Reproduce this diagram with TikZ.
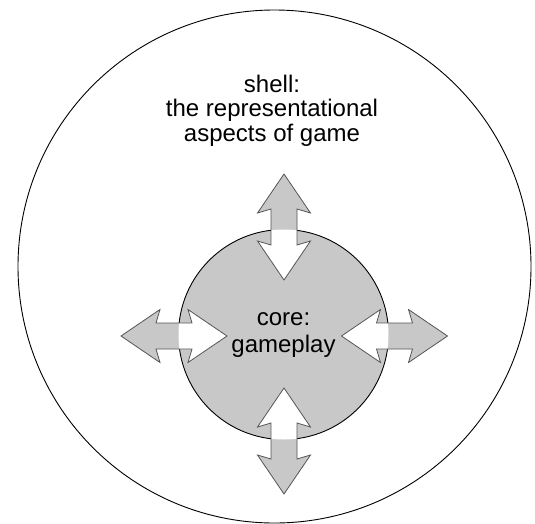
\documentclass[tikz,border=0pt]{standalone}
\usepackage{fontspec}
\setmainfont{Liberation Sans}
\definecolor{coregray}{RGB}{200,200,200}
\definecolor{edgegray}{RGB}{85,85,85}

% outline of a two-way arrow, centred on the origin, pointing along x
\newcommand{\twowaypath}{%
  (53,0) -- (14,26.5) -- (18,13) -- (-18,13) -- (-14,26.5) -- (-53,0)
  -- (-14,-26.5) -- (-18,-13) -- (18,-13) -- (14,-26.5) -- cycle}

% two-way arrow across the core boundary: grey outside, white inside
\newcommand{\twowayarrow}[2]{%
  \begin{scope}[shift={(#1)}, rotate=#2]
    \fill[coregray] \twowaypath;
  \end{scope}
  \begin{scope}
    \clip (core.center) circle[radius=105pt];
    \begin{scope}[shift={(#1)}, rotate=#2]
      \fill[white] \twowaypath;
    \end{scope}
  \end{scope}
  \begin{scope}[shift={(#1)}, rotate=#2]
    \draw[arrowedge] \twowaypath;
  \end{scope}}

\begin{document}
\begin{tikzpicture}[x=1pt, y=-1pt,
    ring/.style={circle, draw=black, line width=0.9pt, inner sep=0pt},
    arrowedge/.style={draw=edgegray, line width=0.8pt, line join=miter},
    label/.style={align=center, inner sep=0pt, font=\fontsize{24}{#1}\selectfont}]
  \useasboundingbox (0,0) rectangle (535,523);

  % outer shell and inner core
  \node[ring, fill=white, minimum size=513pt] (shell) at (274.5,266.5) {};
  \node[ring, fill=coregray, minimum size=210pt] (core) at (283.5,334.5) {};

  % arrows crossing the core boundary
  \coordinate (up)    at (284,227);
  \coordinate (down)  at (284,441);
  \coordinate (left)  at (174,336);
  \coordinate (right) at (394.5,336);
  \twowayarrow{up}{90}
  \twowayarrow{down}{90}
  \twowayarrow{left}{0}
  \twowayarrow{right}{0}

  % labels
  \node[label=24.5] (shelltext) at (272,110.5)
    {shell:\\the representational\\aspects of game};
  \node[label=27] (coretext) at (283.5,335.5) {core:\\gameplay};
\end{tikzpicture}
\end{document}
